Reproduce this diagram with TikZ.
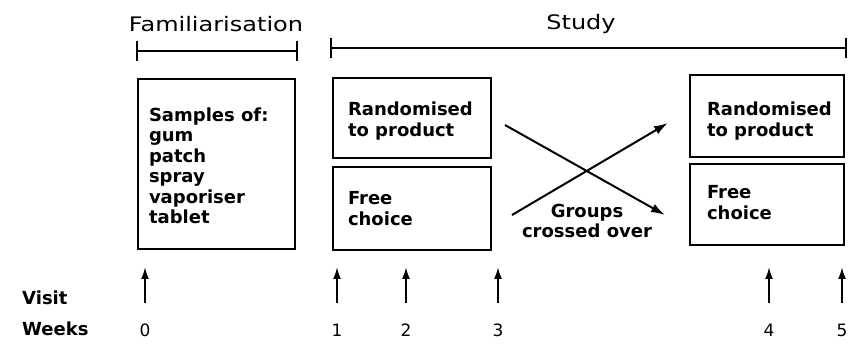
\documentclass[tikz,border=0pt]{standalone}
\usepackage{fontspec}
\setmainfont{DejaVu Sans}
\newfontfamily\titlefont[FakeStretch=1.2]{DejaVu Sans}
\usetikzlibrary{arrows.meta}
\begin{document}
\begin{tikzpicture}[x=1pt,y=-1pt,
  box/.style={draw, line width=2.4pt, inner sep=0pt},
  boxtext/.style={align=left, inner sep=0pt, font=\bfseries\fontsize{18}{20.5}\selectfont},
  title/.style={inner sep=0pt, anchor=base, font=\titlefont\fontsize{20}{24}\selectfont},
  span/.style={line width=2pt, {Bar[width=20pt,line width=2pt]}-{Bar[width=20pt,line width=2pt]}},
  cross/.style={line width=2pt, -{Latex[length=14pt,width=9pt]}},
  visit/.style={line width=2pt, -{Latex[length=12pt,width=8pt]}},
  rowlabel/.style={inner sep=0pt, anchor=base west, font=\bfseries\fontsize{18}{20}\selectfont},
  num/.style={inner sep=0pt, anchor=base, font=\fontsize{17}{20}\selectfont}]
\useasboundingbox[fill=white] (0,0) rectangle (848,344);

% titles and spans
\node[title] (famt) at (216,32) {Familiarisation};
\node[title] (studyt) at (581,30) {Study};
\coordinate (fa) at (136,51);
\coordinate (fb) at (298,51);
\coordinate (sa) at (330,48);
\coordinate (sb) at (847,48);
\draw[span] (fa) -- (fb);
\draw[span] (sa) -- (sb);

% boxes
\node[box, minimum width=157pt, minimum height=170pt] (b1) at (216.5,164) {};
\node[box, minimum width=158pt, minimum height=80pt] (b2) at (412,118) {};
\node[box, minimum width=158pt, minimum height=83pt] (b3) at (412,208.5) {};
\node[box, minimum width=154pt, minimum height=82pt] (b4) at (767,116) {};
\node[box, minimum width=154pt, minimum height=81pt] (b5) at (767,204.5) {};

\node[boxtext, anchor=west] (t1) at ([xshift=12pt,yshift=-2pt]b1.west) {Samples of:\\gum\\patch\\spray\\vaporiser\\tablet};
\node[boxtext, anchor=west] (t2) at ([xshift=16pt,yshift=-3pt]b2.west) {Randomised\\to product};
\node[boxtext, anchor=west] (t3) at ([xshift=16pt]b3.west) {Free\\choice};
\node[boxtext, anchor=west] (t4) at ([xshift=18pt,yshift=-5pt]b4.west) {Randomised\\to product};
\node[boxtext, anchor=west] (t5) at ([xshift=18pt,yshift=2pt]b5.west) {Free\\choice};

% crossover
\coordinate (ca) at (505,125);
\coordinate (cb) at (665,215);
\coordinate (cc) at (512,215);
\coordinate (cd) at (668,123);
\draw[cross] (ca) -- (cb);
\draw[cross] (cc) -- (cd);
\node[boxtext, align=center] (grp) at (587,221) {Groups\\crossed over};

% visits and weeks
\node[rowlabel] (visitl) at (22,305) {Visit};
\node[rowlabel] (weeksl) at (22,335) {Weeks};
\foreach \n/\x in {0/145,1/337,2/406,3/498,4/769,5/842}{
  \node[num] (w\n) at (\x,336) {\n};
  \coordinate (vb\n) at (\x,303);
  \coordinate (vt\n) at (\x,267);
  \draw[visit] (vb\n) -- (vt\n);
}
\end{tikzpicture}
\end{document}
